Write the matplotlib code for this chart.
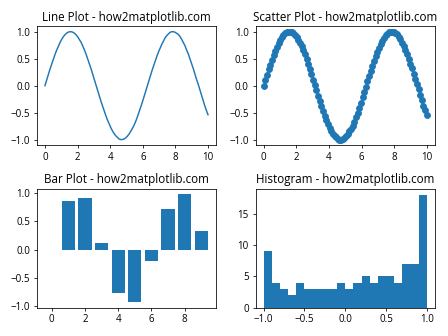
import matplotlib
matplotlib.use('Agg')
import matplotlib.pyplot as plt
import numpy as np

plt.rcParams['font.family'] = ['Open Sans', 'DejaVu Sans']

# sampled sine wave, 100 points across 0..10
x = np.linspace(0, 10, 100)
y = [0.00, 0.10, 0.20, 0.30, 0.39, 0.48, 0.57, 0.65, 0.72, 0.79,
     0.85, 0.90, 0.94, 0.97, 0.99, 1.00, 1.00, 0.99, 0.97, 0.94,
     0.90, 0.85, 0.80, 0.73, 0.66, 0.58, 0.49, 0.40, 0.31, 0.21,
     0.11, 0.01, -0.09, -0.19, -0.29, -0.38, -0.47, -0.56, -0.64, -0.71,
     -0.78, -0.84, -0.89, -0.93, -0.96, -0.99, -1.00, -1.00, -0.99, -0.97,
     -0.94, -0.90, -0.85, -0.80, -0.74, -0.67, -0.59, -0.50, -0.41, -0.32,
     -0.22, -0.12, -0.02, 0.08, 0.18, 0.28, 0.37, 0.46, 0.55, 0.63,
     0.70, 0.77, 0.83, 0.89, 0.93, 0.96, 0.99, 1.00, 1.00, 0.99,
     0.97, 0.95, 0.91, 0.86, 0.80, 0.74, 0.66, 0.59, 0.50, 0.41,
     0.32, 0.22, 0.12, 0.03, -0.07, -0.17, -0.27, -0.37, -0.46, -0.54]

# bar chart values
bar_x = list(range(10))
bar_y = [0.0, 0.86, 0.91, 0.11, -0.78, -0.94, -0.21, 0.72, 0.98, 0.33]

# histogram: 20 bins between -1 and 1
hist_edges = np.linspace(-1, 1, 21)
hist_counts = [9, 4, 3, 2, 4, 3, 3, 3, 3, 4, 3, 4, 5, 4, 5, 5, 4, 7, 7, 18]

fig, axs = plt.subplots(2, 2, figsize=(6.4, 4.8), dpi=70)

axs[0, 0].plot(x, y)
axs[0, 0].set_title('Line Plot - how2matplotlib.com')

axs[0, 1].scatter(x, y)
axs[0, 1].set_title('Scatter Plot - how2matplotlib.com')

axs[1, 0].bar(bar_x, bar_y)
axs[1, 0].set_title('Bar Plot - how2matplotlib.com')

axs[1, 1].hist(hist_edges[:-1], bins=hist_edges, weights=hist_counts)
axs[1, 1].set_title('Histogram - how2matplotlib.com')

plt.tight_layout()
plt.savefig('out.png')
